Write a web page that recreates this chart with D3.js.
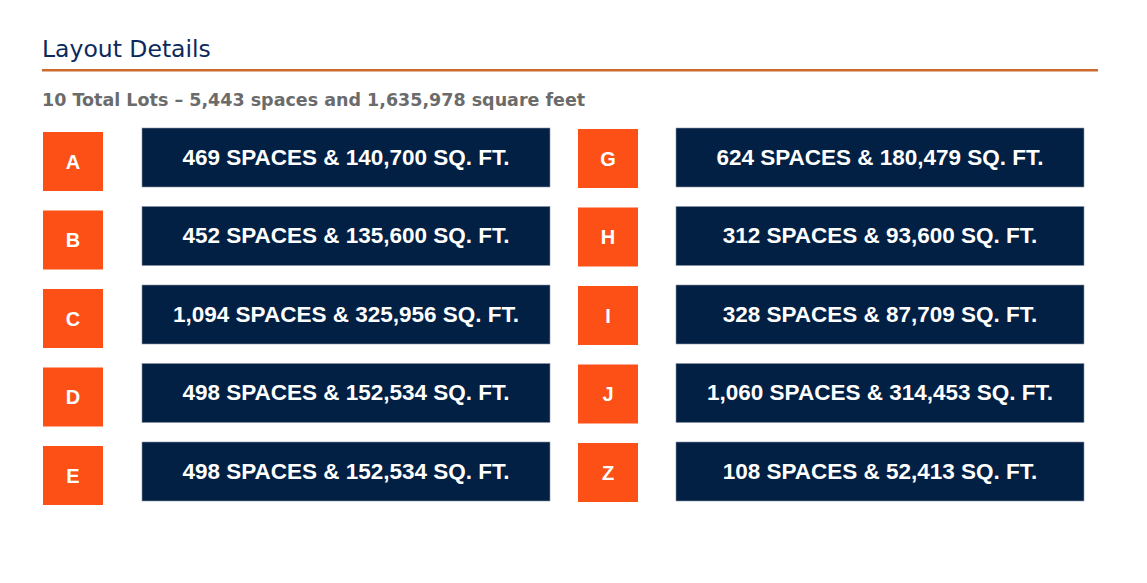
<!DOCTYPE html>
<html><head><meta charset="utf-8">
<script src="https://cdn.jsdelivr.net/npm/d3@7"></script>
<style>body{margin:0;background:#fff}</style></head>
<body><div id="chart"></div>
<script>
const leftLots = ["A", "B", "C", "D", "E"];
const rightLots = ["G", "H", "I", "J", "Z"];
const leftLabels = ["469 SPACES & 140,700 SQ. FT.", "452 SPACES & 135,600 SQ. FT.", "1,094 SPACES & 325,956 SQ. FT.", "498 SPACES & 152,534 SQ. FT.", "498 SPACES & 152,534 SQ. FT."];
const rightLabels = ["624 SPACES & 180,479 SQ. FT.", "312 SPACES & 93,600 SQ. FT.", "328 SPACES & 87,709 SQ. FT.", "1,060 SPACES & 314,453 SQ. FT.", "108 SPACES & 52,413 SQ. FT."];

const W = 1147, H = 583;
const svg = d3.select("#chart").append("svg").attr("width", W).attr("height", H);

svg.append("text").attr("x", 42).attr("y", 57)
    .attr("font-family", "DejaVu Sans").attr("font-size", 23.5).attr("fill", "#0b2a5b")
    .text("Layout Details");
svg.append("rect").attr("x", 42).attr("y", 69).attr("width", 1056).attr("height", 2.5).attr("fill", "#cd6a31");
svg.append("text").attr("x", 42).attr("y", 106)
    .attr("font-family", "DejaVu Sans").attr("font-weight", "bold").attr("font-size", 17.5).attr("fill", "#6b6b6b")
    .text("10 Total Lots \u2013 5,443 spaces and 1,635,978 square feet");

// step 78.5, box height 59
const y = d3.scaleBand().domain(d3.range(5)).range([128, 128 + 4 * 78.5 + 59]).paddingInner(19.5 / 78.5);

function column(lots, labels, letterX, boxX, letterDy) {
  const g = svg.append("g");
  const rows = g.selectAll("g.row").data(lots.map((l, i) => ({lot: l, label: labels[i], i})))
    .enter().append("g").attr("class", "row");
  rows.append("rect").attr("x", letterX).attr("y", d => y(d.i) + letterDy)
      .attr("width", 60).attr("height", y.bandwidth()).attr("fill", "#fc5016");
  rows.append("text").attr("x", letterX + 30).attr("y", d => y(d.i) + letterDy + y.bandwidth() / 2 + 7)
      .attr("text-anchor", "middle").attr("font-family", "Liberation Sans").attr("font-weight", "bold")
      .attr("font-size", 20).attr("fill", "#fff").text(d => d.lot);
  rows.append("rect").attr("x", boxX).attr("y", d => y(d.i))
      .attr("width", 408).attr("height", y.bandwidth()).attr("fill", "#022043")
      .attr("stroke", "#8a93a6").attr("stroke-width", 0.6);
  rows.append("text").attr("x", boxX + 204).attr("y", d => y(d.i) + y.bandwidth() / 2 + 7)
      .attr("text-anchor", "middle").attr("font-family", "Liberation Sans").attr("font-weight", "bold")
      .attr("font-size", 22.5).attr("fill", "#fff").text(d => d.label);
}
column(leftLots, leftLabels, 43, 142, 4);
column(rightLots, rightLabels, 578, 676, 1);
</script></body></html>
